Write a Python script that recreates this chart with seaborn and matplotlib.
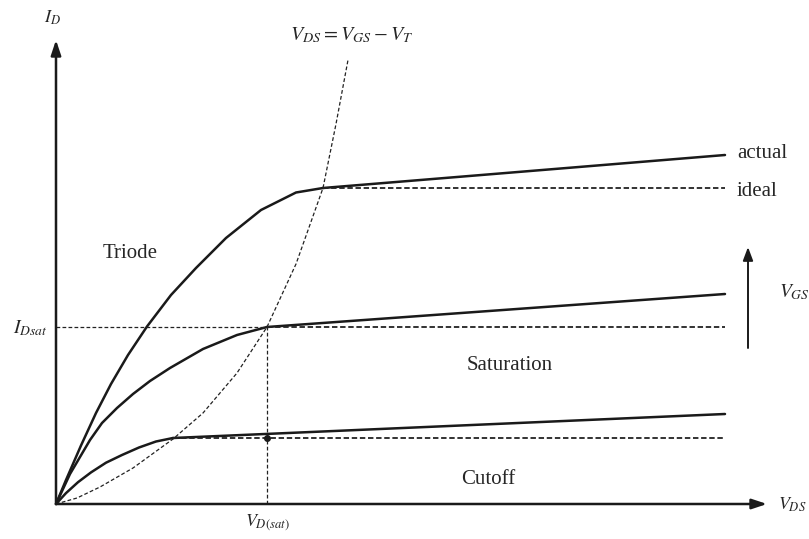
import matplotlib
matplotlib.use("Agg")
import matplotlib.pyplot as plt
import seaborn as sns
import pandas as pd

sns.set_style("white")
plt.rcParams['font.family'] = ['Liberation Serif', 'DejaVu Serif']
plt.rcParams['mathtext.fontset'] = 'stix'

# triode-region curves (V_DS, I_D), arbitrary units
top_vds = [0, 1.0, 2.5, 4.0, 5.5, 7.2, 9.1, 11.5, 14.0, 17.0, 20.5, 24.0, 26.7]
top_id = [0, 2.4, 5.85, 9.1, 12.0, 14.9, 17.75, 20.9, 23.6, 26.6, 29.4, 31.15, 31.6]
mid_vds = [0, 1.4, 3.4, 4.6, 6.1, 7.7, 9.4, 11.4, 14.7, 18.1, 21.1]
mid_id = [0, 3.0, 6.4, 8.1, 9.6, 11.0, 12.3, 13.6, 15.5, 16.9, 17.7]
low_vds = [0, 1.0, 2.2, 3.5, 5.0, 6.6, 8.3, 10.0, 11.7]
low_id = [0, 1.09, 2.18, 3.16, 4.13, 4.9, 5.65, 6.25, 6.6]

# saturation region: knee -> end, actual (with slope) and ideal (flat)
sat_end = 66.9
actual_end_id = [34.9, 21.0, 9.0]
knee_vds = [26.7, 21.1, 11.7]
knee_id = [31.6, 17.7, 6.6]

# V_DS = V_GS - V_T locus
locus_vds = [0, 2.1, 4.4, 7.7, 11.7, 14.7, 18.1, 21.1, 24.0, 26.7, 28.0, 29.2]
locus_id = [0, 0.6, 1.7, 3.6, 6.5, 9.1, 13.1, 17.7, 24.0, 31.6, 38.0, 44.4]

vd_sat = 21.1
id_sat = 17.7

fig = plt.figure(figsize=(8.09, 5.39), dpi=100)
ax = fig.add_axes([0, 0, 1, 1])

solid = dict(color='#1a1a1a', lw=1.8)
for xs, ys in [(top_vds, top_id), (mid_vds, mid_id), (low_vds, low_id)]:
    df = pd.DataFrame({'vds': xs, 'id': ys})
    sns.lineplot(data=df, x='vds', y='id', sort=False, ax=ax, **solid)

for kx, ky, ay in zip(knee_vds, knee_id, actual_end_id):
    act = pd.DataFrame({'vds': [kx, sat_end], 'id': [ky, ay]})
    sns.lineplot(data=act, x='vds', y='id', sort=False, ax=ax, **solid)
    ax.plot([kx, sat_end], [ky, ky], color='#222222', lw=1.3, ls=(0, (3, 1.5)))

# locus
loc = pd.DataFrame({'vds': locus_vds, 'id': locus_id})
sns.lineplot(data=loc, x='vds', y='id', sort=False, ax=ax,
             color='#222222', lw=0.9, ls=(0, (3, 1.8)))

# I_Dsat and V_D(sat) guides
ax.plot([0, vd_sat], [id_sat, id_sat], color='#222222', lw=0.9, ls=(0, (3, 1.8)))
ax.plot([vd_sat, vd_sat], [0, id_sat], color='#222222', lw=0.9, ls=(0, (3, 1.8)))
ax.plot([vd_sat], [knee_id[2]], 'o', color='#1a1a1a', ms=4)

# axes arrows
arr = dict(arrowstyle='-|>,head_length=0.9,head_width=0.3', color='#1a1a1a', lw=1.8,
           shrinkA=0, shrinkB=0)
ax.annotate('', xy=(71.1, 0), xytext=(0, 0), arrowprops=arr)
ax.annotate('', xy=(0, 46.4), xytext=(0, 0), arrowprops=arr)
arr2 = dict(arrowstyle='-|>,head_length=0.8,head_width=0.3', color='#1a1a1a', lw=1.4,
            shrinkA=0, shrinkB=0)
ax.annotate('', xy=(69.2, 25.7), xytext=(69.2, 15.6), arrowprops=arr2)

# labels
fs = 15
ax.text(-0.4, 48.6, r'$I_D$', fontsize=13, ha='center', va='center')
ax.text(35.7, 46.9, r'$V_{DS}=V_{GS}-V_T$', fontsize=14.5, ha='right', va='center')
ax.text(7.4, 25.1, 'Triode', fontsize=fs, ha='center', va='center')
ax.text(45.4, 13.9, 'Saturation', fontsize=fs, ha='center', va='center')
ax.text(43.2, 2.4, 'Cutoff', fontsize=fs, ha='center', va='center')
ax.text(68.1, 35.1, 'actual', fontsize=fs, ha='left', va='center')
ax.text(68.1, 31.2, 'ideal', fontsize=fs, ha='left', va='center')
ax.text(72.3, 21.2, r'$V_{GS}$', fontsize=14, ha='left', va='center')
ax.text(72.2, -0.1, r'$V_{DS}$', fontsize=13, ha='left', va='center')
ax.text(21.1, -1.9, r'$V_{D(sat)}$', fontsize=13, ha='center', va='center')
ax.text(-0.8, 17.6, r'$I_{Dsat}$', fontsize=14, ha='right', va='center')

ax.set_xlim(-5.6, 75.3)
ax.set_ylim(-3.5, 50.4)
ax.axis('off')
if ax.get_legend():
    ax.get_legend().remove()

fig.savefig('out.png', dpi=100)
